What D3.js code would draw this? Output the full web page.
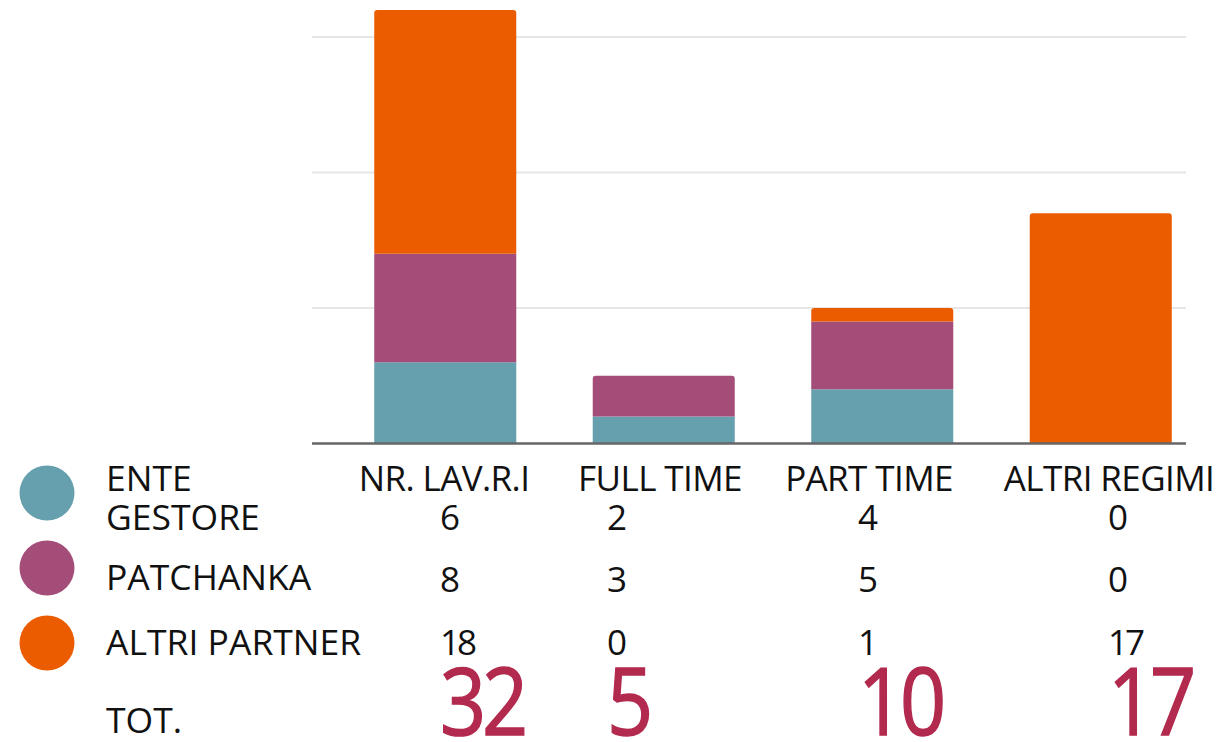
<!DOCTYPE html>
<html>
<head>
<meta charset="utf-8">
<script src="https://cdn.jsdelivr.net/npm/d3@7"></script>
<style>
    body { margin: 0; background: #fff; }
    svg text { font-family: "Open Sans", "DejaVu Sans", sans-serif; }
</style>
</head>
<body>
<div id="chart"></div>
<script>
// data
var categories = ["NR. LAV.R.I", "FULL TIME", "PART TIME", "ALTRI REGIMI"];
var seriesNames = ["ENTE\nGESTORE", "PATCHANKA", "ALTRI PARTNER"];
var enteGestore = [6, 2, 4, 0];
var patchanka = [8, 3, 5, 0];
var altriPartner = [18, 0, 1, 17];
var gridTicks = [10, 20, 30];

var colors = ["#669fad", "#a54d79", "#eb5c00"];
var totColor = "#b22a4e";

var width = 1224, height = 742;

var svg = d3.select("#chart").append("svg")
    .attr("width", width)
    .attr("height", height);

var rows = categories.map(function (c, i) {
    return { cat: c, s0: enteGestore[i], s1: patchanka[i], s2: altriPartner[i] };
});

var stacked = d3.stack().keys(["s0", "s1", "s2"])(rows);

var x = d3.scaleBand()
    .domain(categories)
    .range([336, 1210])
    .paddingInner(0.35)
    .paddingOuter(0.175);

var y = d3.scaleLinear()
    .domain([0, 32])
    .range([443.5, 10]);

// gridlines
svg.append("g").selectAll("line")
    .data(gridTicks)
    .enter().append("line")
    .attr("x1", 312).attr("x2", 1186)
    .attr("y1", function (d) { return y(d); })
    .attr("y2", function (d) { return y(d); })
    .attr("stroke", "#e6e6e6")
    .attr("stroke-width", 2);

// topmost non-empty segment gets rounded corners
function topIndex(i) {
    var t = 0;
    stacked.forEach(function (s, k) { if (s[i][1] > s[i][0]) t = k; });
    return t;
}

function roundTop(x0, y0, w, h, r) {
    return "M" + x0 + "," + (y0 + h) +
        "V" + (y0 + r) +
        "Q" + x0 + "," + y0 + " " + (x0 + r) + "," + y0 +
        "H" + (x0 + w - r) +
        "Q" + (x0 + w) + "," + y0 + " " + (x0 + w) + "," + (y0 + r) +
        "V" + (y0 + h) + "Z";
}

var layers = svg.append("g").selectAll("g")
    .data(stacked)
    .enter().append("g")
    .attr("fill", function (d, i) { return colors[i]; });

layers.selectAll("path")
    .data(function (d) { return d.map(function (p, i) { return { p: p, i: i, k: d.index }; }); })
    .enter().append("path")
    .filter(function (d) { return d.p[1] > d.p[0]; })
    .attr("d", function (d) {
        var x0 = x(categories[d.i]);
        var y0 = y(d.p[1]);
        var h = y(d.p[0]) - y(d.p[1]);
        var r = (topIndex(d.i) === d.k) ? 3 : 0;
        return roundTop(x0, y0, x.bandwidth(), h, r);
    });

// baseline
svg.append("line")
    .attr("x1", 312).attr("x2", 1186)
    .attr("y1", y(0)).attr("y2", y(0))
    .attr("stroke", "#666")
    .attr("stroke-width", 2.5);

// table layout (column centres / lefts)
var labelCenters = [444, 660, 869, 1109];
var tableCols = [440, 607, 858, 1108];

// category labels
svg.append("g").selectAll("text")
    .data(categories)
    .enter().append("text")
    .attr("x", function (d, i) { return labelCenters[i]; })
    .attr("y", 491)
    .attr("text-anchor", "middle")
    .attr("font-size", 35)
    .attr("letter-spacing", -0.6)
    .attr("fill", "#111")
    .text(function (d) { return d; });

// legend
var legendY = [493, 568, 643];
svg.append("g").selectAll("circle")
    .data(colors)
    .enter().append("circle")
    .attr("cx", 47)
    .attr("cy", function (d, i) { return legendY[i]; })
    .attr("r", 27.5)
    .attr("fill", function (d) { return d; });

var labelBase = [[491, 530], [590], [655]];
seriesNames.forEach(function (name, i) {
    var t = svg.append("text")
        .attr("font-size", 35.5)
        .attr("fill", "#111");
    name.split("\n").forEach(function (part, j) {
        t.append("tspan")
            .attr("x", 106)
            .attr("y", labelBase[i][j])
            .text(part);
    });
});

svg.append("text")
    .attr("x", 106).attr("y", 733)
    .attr("font-size", 35.5)
    .attr("fill", "#111")
    .text("TOT.");

// value table
var rowBase = [530, 592, 655];
var series = [enteGestore, patchanka, altriPartner];

series.forEach(function (vals, r) {
    svg.append("g").selectAll("text")
        .data(vals)
        .enter().append("text")
        .attr("x", function (d, i) { return tableCols[i]; })
        .attr("y", rowBase[r])
        .attr("font-size", 35)
        .attr("letter-spacing", -3)
        .attr("fill", "#111")
        .text(function (d) { return d; });
});

// totals
var totals = rows.map(function (d) { return d.s0 + d.s1 + d.s2; });
svg.append("g").selectAll("text")
    .data(totals)
    .enter().append("text")
    .attr("transform", function (d, i) { return "translate(" + tableCols[i] + ",735) scale(0.86,1)"; })
    .attr("font-size", 94)
    .attr("letter-spacing", -5)
    .attr("fill", totColor)
    .attr("stroke", totColor)
    .attr("stroke-width", 1.5)
    .text(function (d) { return d; });
</script>
</body>
</html>
